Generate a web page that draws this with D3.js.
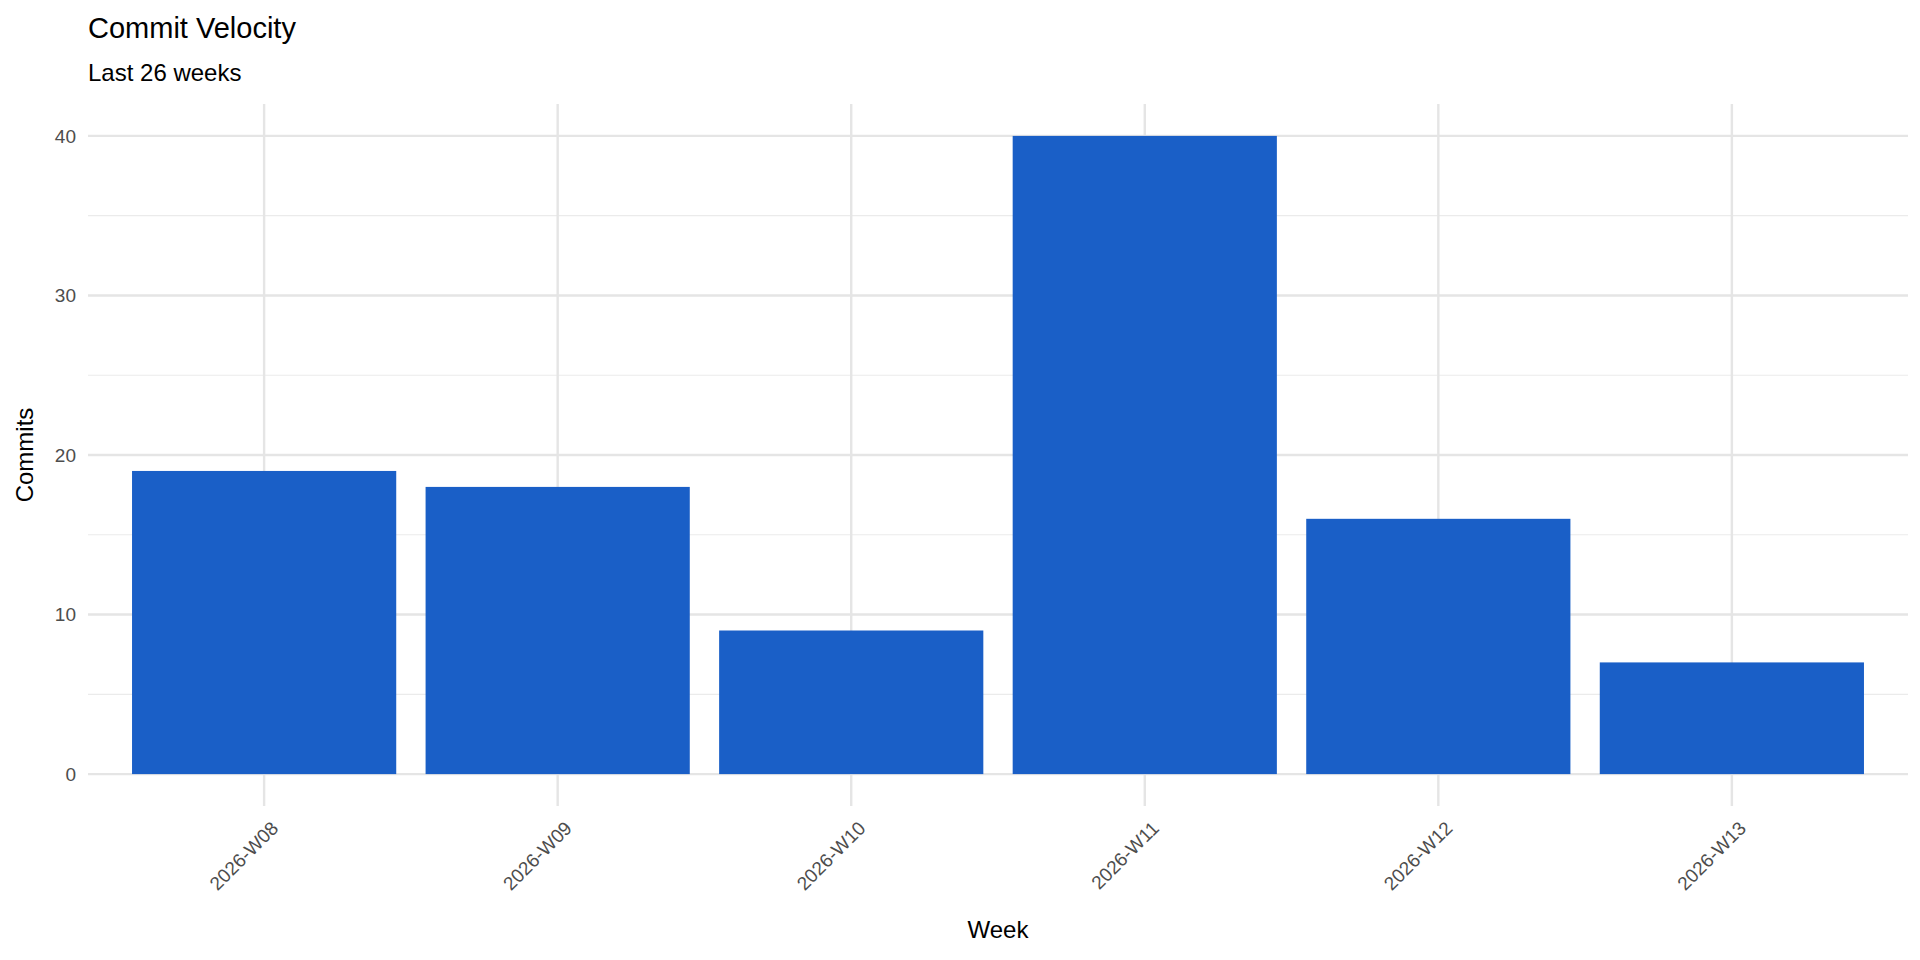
<!DOCTYPE html><html><head><script src="https://cdn.jsdelivr.net/npm/d3@7"></script>
<style>body{margin:0;background:#fff}text{font-family:"Liberation Sans",Arial,sans-serif}</style></head><body>
<svg id="c" width="1920" height="960"></svg>
<script>
const weeks=["2026-W08","2026-W09","2026-W10","2026-W11","2026-W12","2026-W13"];
const commits=[19,18,9,40,16,7];
const yTicks=[0,10,20,30,40];
const yMinor=[5,15,25,35];
const svg=d3.select("#c");
const L=88,R=1908,T=104,B=806;
const s=(R-L)/6.2;
const x=d3.scaleBand().domain(weeks).range([L+0.1*s,R-0.1*s]).paddingInner(0.1).paddingOuter(0.05);
const y=d3.scaleLinear().domain([-2,42]).range([B,T]);
const g=svg.append("g");
yMinor.forEach(v=>g.append("line").attr("x1",L).attr("x2",R).attr("y1",y(v)).attr("y2",y(v)).attr("stroke","#ebebeb").attr("stroke-width",1.2));
yTicks.forEach(v=>g.append("line").attr("x1",L).attr("x2",R).attr("y1",y(v)).attr("y2",y(v)).attr("stroke","#e5e5e5").attr("stroke-width",2.4));
weeks.forEach(w=>g.append("line").attr("x1",x(w)+x.bandwidth()/2).attr("x2",x(w)+x.bandwidth()/2).attr("y1",T).attr("y2",B).attr("stroke","#e5e5e5").attr("stroke-width",2.4));
svg.selectAll("rect.b").data(weeks).join("rect").attr("x",d=>x(d)).attr("width",x.bandwidth())
 .attr("y",(d,i)=>y(commits[i])).attr("height",(d,i)=>y(0)-y(commits[i])).attr("fill","#1a5fc7");
yTicks.forEach(v=>svg.append("text").attr("x",L-12).attr("y",y(v)).attr("dy","0.35em").attr("text-anchor","end").attr("font-size",19).attr("fill","#4d4d4d").text(v));
weeks.forEach(w=>{const cx=x(w)+x.bandwidth()/2;
 svg.append("text").attr("transform",`translate(${cx+6},${B+14}) rotate(-45)`).attr("text-anchor","end").attr("dy","0.7em").attr("font-size",19).attr("fill","#4d4d4d").text(w);});
svg.append("text").attr("x",(L+R)/2).attr("y",938).attr("text-anchor","middle").attr("font-size",24).attr("fill","#000").text("Week");
svg.append("text").attr("transform",`translate(33,${(T+B)/2}) rotate(-90)`).attr("text-anchor","middle").attr("font-size",24).attr("fill","#000").text("Commits");
svg.append("text").attr("x",88).attr("y",38).attr("font-size",29).attr("fill","#000").text("Commit Velocity");
svg.append("text").attr("x",88).attr("y",81).attr("font-size",24).attr("fill","#000").text("Last 26 weeks");
</script></body></html>
